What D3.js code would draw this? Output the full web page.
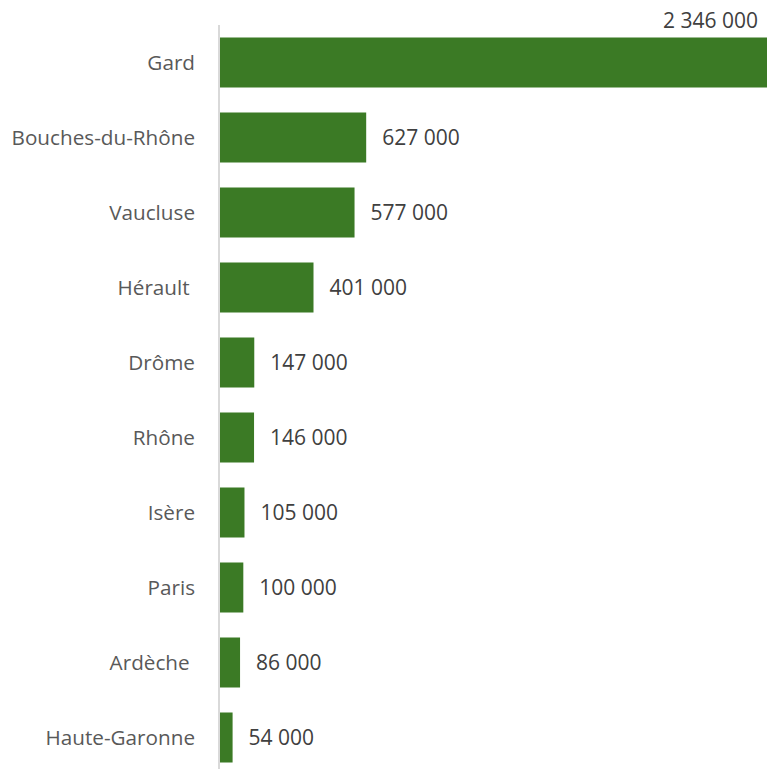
<!DOCTYPE html>
<html><head><meta charset="utf-8">
<script src="https://cdn.jsdelivr.net/npm/d3@7"></script>
<style>body{margin:0;background:#fff}svg{display:block}text{white-space:pre}</style>
</head><body>
<svg id="c" width="767" height="769"></svg>
<script>
const categories = ["Gard","Bouches-du-Rhône","Vaucluse","Hérault ","Drôme","Rhône","Isère","Paris","Ardèche ","Haute-Garonne"];
const values = [2346000,627000,577000,401000,147000,146000,105000,100000,86000,54000];

const svg = d3.select("#c");
const axisX = 219;
const x = d3.scaleLinear().domain([0, 2346000]).range([220, 767]);
const y = d3.scaleBand().domain(categories).range([25, 775]).paddingInner(1/3).paddingOuter(1/6);
const fmt = d3.formatLocale({decimal:",", thousands:"\u00a0", grouping:[3], currency:["","€"]}).format(",d");
const font = "'Open Sans', sans-serif";
const data = categories.map((c,i)=>({c, v:values[i]}));

svg.selectAll("rect.bar").data(data).join("rect")
  .attr("class","bar")
  .attr("x", x(0)).attr("y", d=>y(d.c))
  .attr("width", d=>x(d.v)-x(0)).attr("height", y.bandwidth())
  .attr("fill","#3b7a25");

svg.append("line").attr("x1",axisX).attr("x2",axisX).attr("y1",25).attr("y2",769)
  .attr("stroke","#d9d9d9").attr("stroke-width",2);

svg.selectAll("text.cat").data(data).join("text")
  .attr("class","cat")
  .attr("x",195).attr("y",d=>y(d.c)+y.bandwidth()/2).attr("dy","0.35em")
  .attr("text-anchor","end").attr("font-family",font).attr("font-size",20.7)
  .attr("fill","#595959").text(d=>d.c);

svg.selectAll("text.val").data(data).join("text")
  .attr("class","val")
  .attr("x",(d,i)=> i===0 ? 758 : x(d.v)+16)
  .attr("y",(d,i)=> i===0 ? 28 : y(d.c)+y.bandwidth()/2)
  .attr("dy",(d,i)=> i===0 ? 0 : "0.35em")
  .attr("text-anchor",(d,i)=> i===0 ? "end" : "start")
  .attr("font-family",font).attr("font-size",21)
  .attr("fill","#404040").text(d=>fmt(d.v));
</script>
</body></html>
